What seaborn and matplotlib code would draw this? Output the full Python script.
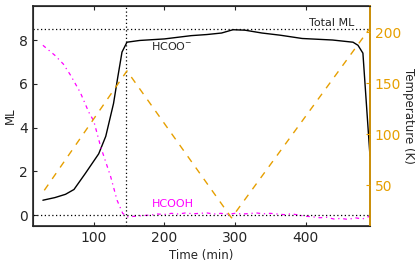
import numpy as np
import matplotlib
matplotlib.use("Agg")
import matplotlib.pyplot as plt
import pandas as pd
import seaborn as sns

# HCOO- coverage (ML)
t_hcoo = [28, 45, 60, 72, 88, 107, 117, 128, 134, 140, 147, 165, 200, 238, 260,
          281, 297, 314, 338, 364, 395, 438, 467, 474, 481, 491]
ml_hcoo = [0.68, 0.8, 0.95, 1.17, 1.9, 2.8, 3.6, 5.1, 6.3, 7.45, 7.9, 7.98, 8.05,
           8.2, 8.25, 8.32, 8.47, 8.45, 8.32, 8.22, 8.07, 8.0, 7.9, 7.76, 7.4, 2.7]

# HCOOH coverage (ML)
t_hcooh = [28, 45, 57, 67, 81, 93, 100, 110, 124, 133, 141, 148, 160, 170, 180,
           190, 200, 210, 220, 230, 240, 250, 260, 270, 280, 290, 300, 310, 320,
           330, 340, 350, 360, 370, 380, 390, 400, 410, 420, 430, 440, 450, 460,
           470, 480, 491]
ml_hcooh = [7.76, 7.3, 6.9, 6.4, 5.6, 4.7, 4.3, 3.1, 1.75, 0.68, 0.08, -0.08,
            -0.05, -0.02, 0.0, 0.05, 0.03, 0.08, 0.05, 0.1, 0.06, 0.08, 0.1, 0.05,
            0.08, 0.04, 0.08, 0.05, 0.07, 0.1, 0.06, 0.08, 0.05, 0.02, 0.06, 0.0,
            -0.05, -0.08, -0.12, -0.1, -0.18, -0.15, -0.2, -0.12, -0.18, -0.05]

# temperature ramp (K)
t_temp = [30, 147, 295, 490]
temp = [45, 162, 18, 203]

total_ml = 8.5
t_mark = 145

orange = "#E69F00"
magenta = "#FF00FF"

sns.set_style("ticks")
plt.rcParams["font.family"] = ["DejaVu Sans"]
plt.rcParams["xtick.direction"] = "in"
plt.rcParams["ytick.direction"] = "in"

fig = plt.figure(figsize=(4.15, 2.65), dpi=100)
ax = fig.add_axes([0.0795, 0.147, 0.812, 0.83])

df1 = pd.DataFrame({"t": t_hcoo, "ml": ml_hcoo})
df2 = pd.DataFrame({"t": t_hcooh, "ml": ml_hcooh})
sns.lineplot(x="t", y="ml", data=df1, ax=ax, color="black", lw=1.0)
sns.lineplot(x="t", y="ml", data=df2, ax=ax, color=magenta, lw=0.9,
             linestyle=(0, (3, 3, 1, 3)))

ax.axhline(total_ml, color="black", ls=(0, (1, 2)), lw=0.9)
ax.axhline(0, color="black", ls=(0, (1, 2)), lw=0.9)
ax.axvline(t_mark, color="black", ls=(0, (1, 2)), lw=0.9)

ax.text(404, 8.77, "Total ML", fontsize=8, va="center", ha="left")
ax.text(181, 7.73, "HCOO$^{-}$", fontsize=8, va="center", ha="left")
ax.text(182, 0.49, "HCOOH", fontsize=8, va="center", ha="left", color=magenta)

ax.set_xlim(14, 491)
ax.set_ylim(-0.5, 9.55)
ax.set_xticks([100, 200, 300, 400])
ax.set_yticks([0, 2, 4, 6, 8])
ax.set_xlabel("Time (min)", fontsize=8.5, labelpad=3)
ax.set_ylabel("ML", fontsize=8.5, labelpad=2)
ax.tick_params(labelsize=10, top=True, length=3)
for s in ax.spines.values():
    s.set_linewidth(1.2)

ax2 = ax.twinx()
df3 = pd.DataFrame({"t": t_temp, "T": temp})
sns.lineplot(x="t", y="T", data=df3, ax=ax2, color=orange, lw=1.0, linestyle=(0, (5, 5)))
ax2.set_ylim(10, 225.5)
ax2.set_yticks([50, 100, 150, 200])
ax2.set_ylabel("Temperature (K)", fontsize=8.5, rotation=270, labelpad=10)
ax2.tick_params(axis="y", colors=orange, labelsize=10, length=3, direction="in")
ax2.spines["right"].set_color(orange)
ax2.spines["right"].set_linewidth(1.2)
ax2.set_xlim(14, 491)

fig.savefig("out.png", dpi=100)
